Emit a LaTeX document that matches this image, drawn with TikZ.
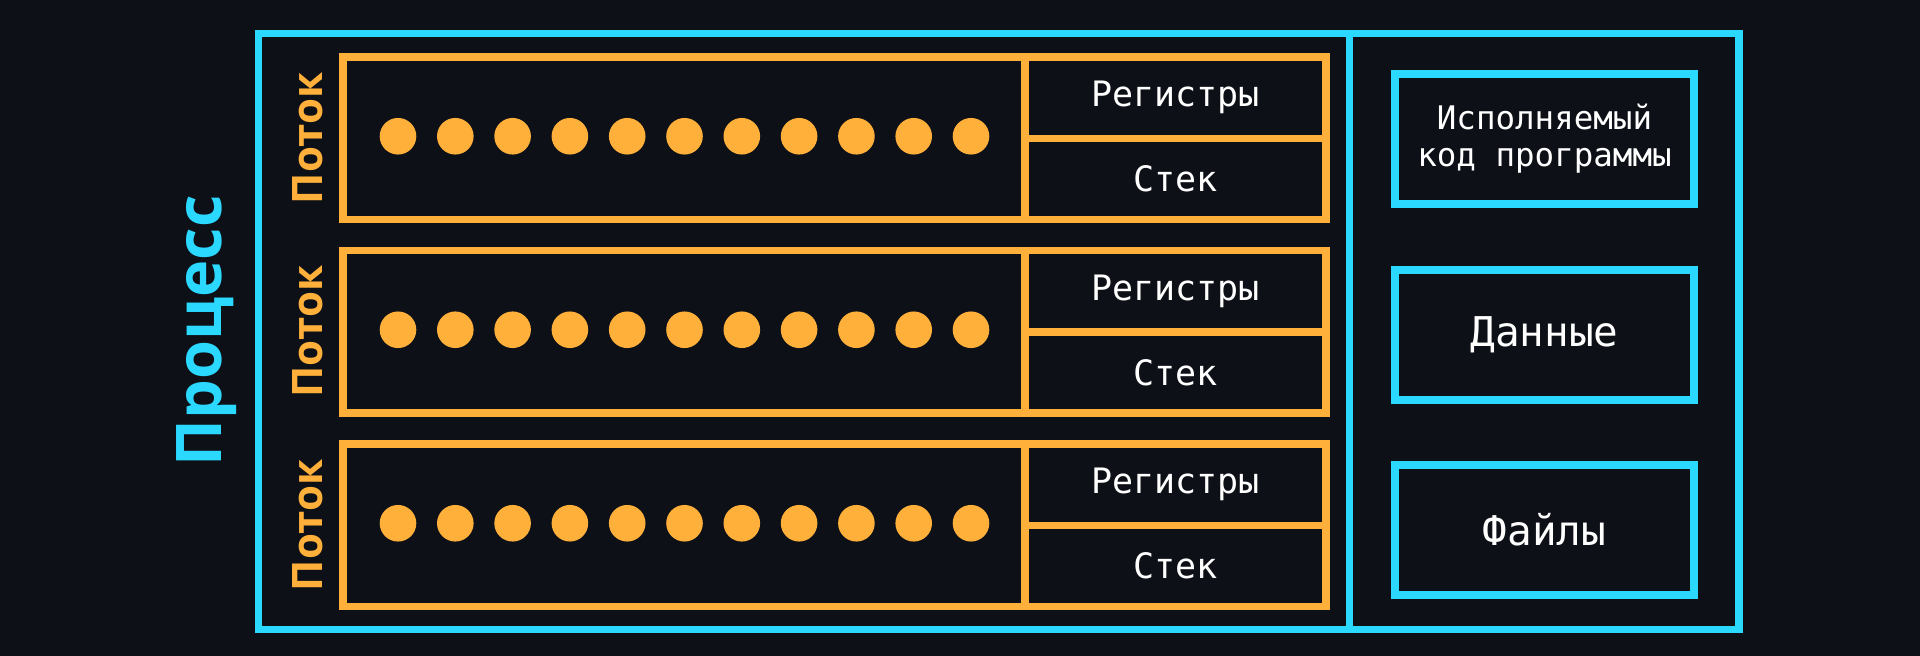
\documentclass[tikz,border=0pt]{standalone}
\usepackage{fontspec}
\usepackage{xcolor}
\newfontfamily\monofont{DejaVu Sans Mono}
\newfontfamily\headfont{Open Sans}
\definecolor{bgdark}{HTML}{0D1017}
\definecolor{procblue}{HTML}{2BD8FF}
\definecolor{threadorange}{HTML}{FFB03B}
\usetikzlibrary{positioning}

\begin{document}
\begin{tikzpicture}[x=1pt,y=-1pt,
  every node/.style={inner sep=0pt,outer sep=0pt,text=white},
  frame/.style={draw=procblue,line width=7.5pt},
  threadbox/.style={draw=threadorange,line width=7.5pt,minimum width=682pt,minimum height=162.5pt},
  cellbox/.style={draw=threadorange,line width=7.5pt,minimum width=301pt,minimum height=81.25pt,
    font=\monofont\fontsize{35}{40}\selectfont},
  partbox/.style={frame,minimum width=299pt,minimum height=130pt,align=center},
  dot/.style={circle,fill=threadorange,minimum size=36.6pt},
  tag/.style={rotate=90,anchor=base,text=threadorange,font=\headfont\bfseries\fontsize{42}{42}\selectfont}]
  \fill[bgdark] (0,0) rectangle (1920,656);
  \useasboundingbox (0,0) rectangle (1920,656);
  % process
  \node[frame,minimum width=1480.5pt,minimum height=596pt] (proc) at (998.75,331.5) {};
  \coordinate (split) at (1349.5,0);
  \draw[frame] (split |- proc.north) -- (split |- proc.south);
  \node[tag,text=procblue,font=\headfont\bfseries\fontsize{63}{63}\selectfont] (proctag) at (221.5,331) {Процесс};
  % threads
  \foreach \i in {0,1,2} {
    \pgfmathsetmacro\yc{138.25+193.5*\i}
    \node[threadbox] (th\i) at (684,\yc) {};
    \node[cellbox,anchor=north west] (reg\i) at (th\i.north east) {Регистры};
    \node[cellbox,below=0pt of reg\i] (stk\i) {Стек};
    \node[tag] (tag\i) at (322,\yc) {Поток};
    \foreach \k in {0,...,10}
      \node[dot] (dot\i-\k) at (398+57.3*\k,\yc-2) {};
  }
  % shared parts
  \node[partbox,font=\monofont\fontsize{32.5}{37}\selectfont] (code) at (1544.5,139) {Исполняемый\\код программы};
  \node[partbox,font=\monofont\fontsize{41}{45}\selectfont] (data) at (1544.5,335) {Данные};
  \node[partbox,font=\monofont\fontsize{41}{45}\selectfont] (files) at (1544.5,530) {Файлы};
\end{tikzpicture}
\end{document}
